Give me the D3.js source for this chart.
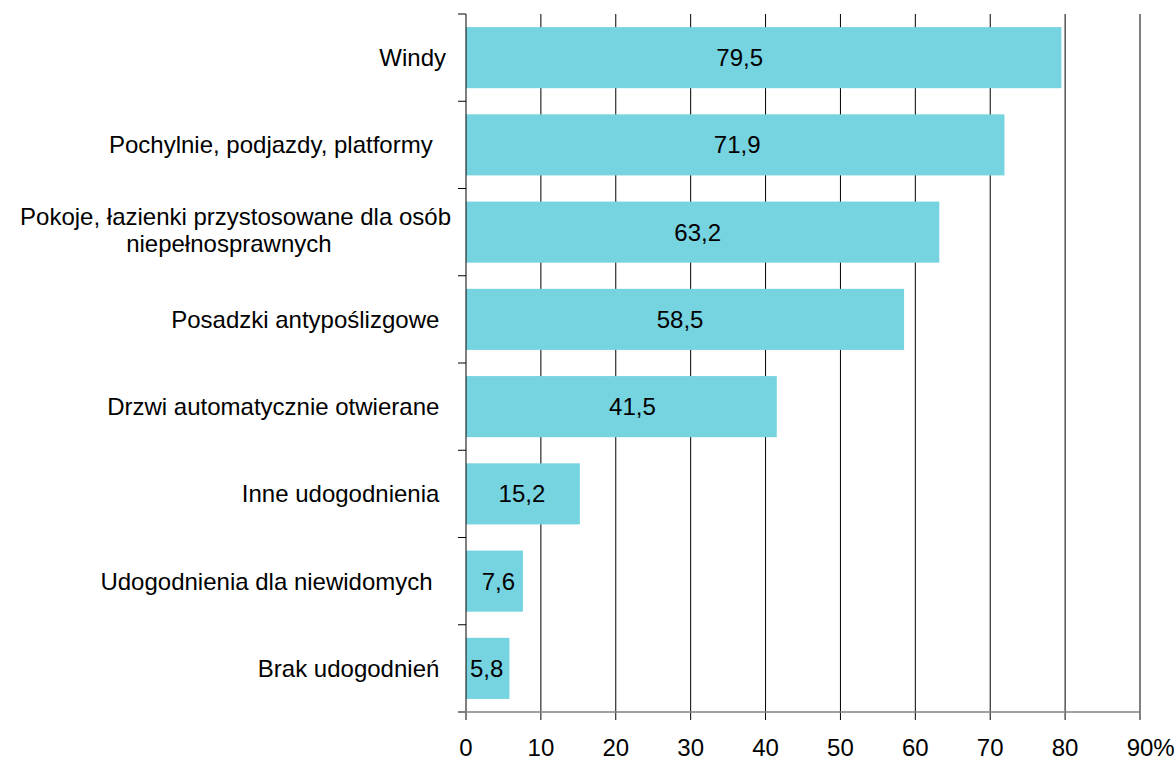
<!DOCTYPE html>
<html>
<head>
<meta charset="utf-8">
<script src="https://cdn.jsdelivr.net/npm/d3@7"></script>
<style>
    body { margin: 0; background: #fff; }
    svg { display: block; font-family: Arial, "Liberation Sans", sans-serif; }
    .cat-label { white-space: pre; }
</style>
</head>
<body>
<div id="chart"></div>
<script>
// Chart data
const categories = [
    'Windy',
    'Pochylnie, podjazdy, platformy  ',
    'Pokoje, łazienki przystosowane dla osób\nniepełnosprawnych  ',
    'Posadzki antypoślizgowe ',
    'Drzwi automatycznie otwierane ',
    'Inne udogodnienia ',
    'Udogodnienia dla niewidomych  ',
    'Brak udogodnień '
];
const values = [79.5, 71.9, 63.2, 58.5, 41.5, 15.2, 7.6, 5.8];
const xTicks = [0, 10, 20, 30, 40, 50, 60, 70, 80, 90];

const W = 1175, H = 758;
const margin = { top: 14, right: 35, bottom: 46, left: 466 };
const fontSize = 24;
// labels in the original were nudged by hand, not all exactly centred
const labelNudge = [-24, 2, -5, -5, 11, -1, 4, -1];

const svg = d3.select('#chart').append('svg')
    .attr('width', W)
    .attr('height', H);

const x = d3.scaleLinear()
    .domain([0, 90])
    .range([margin.left, W - margin.right]);

const y = d3.scaleBand()
    .domain(categories)
    .range([margin.top, H - margin.bottom])
    .paddingInner(0.3)
    .paddingOuter(0.15);

const fmt = v => String(v).replace('.', ',');

// gridlines
svg.append('g')
    .selectAll('line')
    .data(xTicks.slice(1))
    .enter().append('line')
    .attr('x1', d => x(d)).attr('x2', d => x(d))
    .attr('y1', margin.top).attr('y2', H - margin.bottom)
    .attr('stroke', '#000')
    .attr('stroke-width', 1);

// bars
svg.append('g')
    .selectAll('rect')
    .data(values)
    .enter().append('rect')
    .attr('x', x(0))
    .attr('y', (d, i) => y(categories[i]))
    .attr('width', d => x(d) - x(0))
    .attr('height', y.bandwidth())
    .attr('fill', '#76d3e0');

// value labels
svg.append('g')
    .selectAll('text')
    .data(values)
    .enter().append('text')
    .attr('x', (d, i) => (x(0) + x(d)) / 2 + labelNudge[i])
    .attr('y', (d, i) => y(categories[i]) + y.bandwidth() / 2)
    .attr('dy', '0.35em')
    .attr('text-anchor', 'middle')
    .style('font-size', fontSize + 'px')
    .attr('fill', '#000')
    .text(d => fmt(d));

// left axis with ticks at band boundaries
const boundaries = d3.range(categories.length + 1).map(i => margin.top + i * (H - margin.top - margin.bottom) / categories.length);
svg.append('line')
    .attr('x1', x(0)).attr('x2', x(0))
    .attr('y1', margin.top).attr('y2', H - margin.bottom)
    .attr('stroke', '#000');
svg.append('g')
    .selectAll('line')
    .data(boundaries)
    .enter().append('line')
    .attr('x1', x(0) - 8).attr('x2', x(0))
    .attr('y1', d => d).attr('y2', d => d)
    .attr('stroke', '#000');

// category labels
const labelX = 446;
categories.forEach((c, i) => {
    const cy = y(c) + y.bandwidth() / 2;
    const lines = c.split('\n');
    const t = svg.append('text')
        .attr('class', 'cat-label')
        .style('font-size', fontSize + 'px')
        .attr('fill', '#000');
    if (lines.length === 1) {
        t.attr('x', labelX).attr('y', cy).attr('dy', '0.35em')
            .attr('text-anchor', 'end').text(c);
    } else {
        t.attr('text-anchor', 'middle');
        const lh = 27;
        lines.forEach((l, j) => {
            t.append('tspan')
                .attr('y', cy - 2 + (j - (lines.length - 1) / 2) * lh)
                .attr('dy', '0.35em')
                .text(l);
        });
        const wMax = d3.max(t.selectAll('tspan').nodes(), n => n.getComputedTextLength());
        t.selectAll('tspan').attr('x', labelX + 5 - wMax / 2);
    }
});

// bottom axis
const yAxis = H - margin.bottom;
svg.append('g')
    .selectAll('line')
    .data(xTicks)
    .enter().append('line')
    .attr('x1', d => x(d)).attr('x2', d => x(d))
    .attr('y1', yAxis).attr('y2', yAxis + 8)
    .attr('stroke', '#000');
svg.append('line')
    .attr('x1', x(0) - 8).attr('x2', x(90))
    .attr('y1', yAxis).attr('y2', yAxis)
    .attr('stroke', '#808080')
    .attr('stroke-width', 1.5);

const tickLabels = svg.append('g')
    .selectAll('text')
    .data(xTicks)
    .enter().append('text')
    .attr('x', d => x(d))
    .attr('y', yAxis + 44)
    .attr('text-anchor', 'middle')
    .style('font-size', fontSize + 'px')
    .attr('fill', '#000')
    .text(d => d);

// last tick gets a % sign, keeping the number centred on the tick
tickLabels.filter(d => d === 90).each(function(d) {
    const t = d3.select(this);
    const w = this.getComputedTextLength();
    t.attr('text-anchor', 'start').attr('x', x(d) - w / 2).text(d + '%');
});
</script>
</body>
</html>
